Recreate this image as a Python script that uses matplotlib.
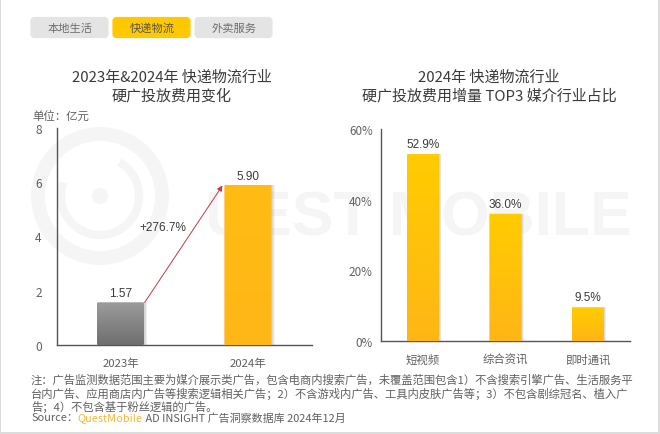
import numpy as np
import matplotlib
matplotlib.use("Agg")
import matplotlib.pyplot as plt
from matplotlib.patches import FancyBboxPatch, Circle, Rectangle, Arc
from matplotlib.colors import LinearSegmentedColormap

plt.rcParams['font.family'] = ['Noto Sans CJK SC', 'DejaVu Sans']

W, H = 660, 435

tabs = ['本地生活', '快递物流', '外卖服务']
years = ['2023年', '2024年']
spend = [1.57, 5.90]
spend_labels = ['1.57', '5.90']
growth_label = '+276.7%'
spend_ticks = [0, 2, 4, 6, 8]
media = ['短视频', '综合资讯', '即时通讯']
share = [52.9, 36.0, 9.5]
share_labels = ['52.9%', '36.0%', '9.5%']
share_ticks = [0, 20, 40, 60]
share_ticklabels = ['0%', '20%', '40%', '60%']
title_left = '2023年&2024年 快递物流行业\n硬广投放费用变化'
title_right = '2024年 快递物流行业\n硬广投放费用增量 TOP3 媒介行业占比'
notes = ['注：广告监测数据范围主要为媒介展示类广告，包含电商内搜索广告，未覆盖范围包含1）不含搜索引擎广告、生活服务平',
         '台内广告、应用商店内广告等搜索逻辑相关广告；2）不含游戏内广告、工具内皮肤广告等；3）不包含剧综冠名、植入广',
         '告；4）不包含基于粉丝逻辑的广告。']
source = ['Source：', 'QuestMobile', ' AD INSIGHT 广告洞察数据库 2024年12月']

TXT = '#606060'
DARK = '#3a3a3a'
fig = plt.figure(figsize=(W/100, H/100), dpi=100, facecolor='white')

# pixel-space backdrop
bg = fig.add_axes([0, 0, 1, 1], zorder=0)
bg.set_xlim(0, W); bg.set_ylim(H, 0); bg.axis('off')
for r in [(0, 0, W, 1.2), (0, 0, 1.2, H), (W-2.5, 0, 2.5, H), (0, H-2, W, 2)]:
    bg.add_patch(Rectangle(r[:2], r[2], r[3], fc='#dcdcdc', ec='none'))

WM = '#f5f5f5'
bg.add_patch(Circle((100, 197), 62, fc='none', ec=WM, lw=10))
bg.add_patch(Arc((100, 197), 78, 78, theta1=-60, theta2=200, ec=WM, lw=6))
bg.add_patch(Circle((100, 197), 8, fc=WM, ec='none'))
bg.text(205, 219, 'UEST MOBILE', fontsize=45, color=WM, family='Liberation Sans', fontweight='bold',
        va='center', ha='left')

for i, (t, x0) in enumerate(zip(tabs, [31, 113, 195])):
    on = i == 1
    bg.add_patch(FancyBboxPatch((x0+1.5, 20), 74, 17, boxstyle='round,pad=0,rounding_size=2',
                                mutation_aspect=1, fc='#ffc800' if on else '#e4e4e4', ec='#ffc800' if on else '#e4e4e4', lw=3))
    bg.text(x0+39, 29, t, fontsize=8.1, color='#555555' if on else '#6e6e6e', ha='center', va='center')

bg.text(172, 87, title_left, fontsize=10.8, color=DARK, ha='center', va='center', linespacing=1.3)
bg.text(489, 87, title_right, fontsize=10.8, color=DARK, ha='center', va='center', linespacing=1.3)
bg.text(32, 117, '单位：亿元', fontsize=8.2, color=TXT, ha='left', va='center')

for n, y in zip(notes, [380, 393.5, 407]):
    bg.text(31, y, n, fontsize=8.15, color=TXT, ha='left', va='center')
x = 31
fig.canvas.draw()
rend = fig.canvas.get_renderer()
for s, c in zip(source, [TXT, '#f0b93c', TXT]):
    t = bg.text(x, 418.5, s, fontsize=7.9, color=c, ha='left', va='center')
    x += t.get_window_extent(rend).width

yellow = LinearSegmentedColormap.from_list('y', ['#ffb616', '#ffcc00'])
amber = LinearSegmentedColormap.from_list('a', ['#ffb618', '#ffbc14'])
gray = LinearSegmentedColormap.from_list('g', ['#6e6e6e', '#9c9c9c'])
grad = np.linspace(1, 0, 128).reshape(-1, 1)

def make_axes(x0, x1, ytop, ybot):
    ax = fig.add_axes([x0/W, 1-ybot/H, (x1-x0)/W, (ybot-ytop)/H], zorder=1)
    ax.patch.set_alpha(0)
    for s in ['top', 'right']:
        ax.spines[s].set_visible(False)
    for s in ['left', 'bottom']:
        ax.spines[s].set_color('#555555'); ax.spines[s].set_linewidth(1)
    ax.tick_params(length=0, labelsize=8.4, labelcolor=TXT)
    return ax

def gradient_bars(ax, xs, vals, width, cmaps):
    xl, yl = ax.get_xlim(), ax.get_ylim()
    for xp, v, cm in zip(xs, vals, cmaps):
        for k in range(4):
            d = width*(0.01 + 0.02*k)
            ax.bar(xp + width*0.03, v, width + d, color='#888888', alpha=0.08, zorder=2)
        ax.bar(xp, v, width, color='none', zorder=3)
        im = ax.imshow(grad, extent=[xp-width/2, xp+width/2, 0, v], aspect='auto', cmap=cm, zorder=3,
                       vmin=0, vmax=1)
        patch = FancyBboxPatch((xp-width/2, 0), width, v, boxstyle='round,pad=0,rounding_size=0.012',
                               mutation_aspect=(yl[1]-yl[0])/(xl[1]-xl[0]), transform=ax.transData, fc='none', ec='none')
        ax.add_patch(patch)
        im.set_clip_path(patch)
    ax.set_xlim(xl); ax.set_ylim(yl)

# left chart
ax1 = make_axes(57, 312, 129, 346)
ax1.set_xlim(-0.498, 1.502); ax1.set_ylim(0, 8)
pos1 = np.arange(len(years))
gradient_bars(ax1, pos1, spend, 0.37, [gray, amber])
ax1.set_xticks(pos1, years); ax1.set_yticks(spend_ticks)
ax1.tick_params(axis='x', pad=9, labelsize=8.2)
ax1.tick_params(axis='y', pad=11, labelsize=8.6)
for xp, v, l in zip(pos1, spend, spend_labels):
    ax1.text(xp, v+0.12, l, fontsize=8.5, color=DARK, ha='center', va='bottom', family='Liberation Sans')
ax1.annotate('', xy=(pos1[1]-0.2, spend[1]-0.02), xytext=(pos1[0]+0.19, spend[0]),
             arrowprops=dict(arrowstyle='-|>', color='#bf3a4a', lw=0.7, mutation_scale=8, shrinkA=0, shrinkB=0), zorder=4)
bg.text(163, 228.5, growth_label, fontsize=8.5, color=DARK, ha='center', va='center', family='Liberation Sans')

# right chart
ax2 = make_axes(381, 630, 130, 342)
ax2.set_xlim(-0.51, 2.51); ax2.set_ylim(0, 60)
pos2 = np.arange(len(media))
gradient_bars(ax2, pos2, share, 0.39, [yellow]*3)
ax2.set_xticks(pos2, media); ax2.set_yticks(share_ticks, share_ticklabels)
ax2.tick_params(axis='x', pad=9, labelsize=8.2)
ax2.tick_params(axis='y', pad=6, labelsize=8.4)
for xp, v, l in zip(pos2, share, share_labels):
    ax2.text(xp, v+1.2, l, fontsize=8.5, color=DARK, ha='center', va='bottom', family='Liberation Sans')

fig.savefig('out.png', dpi=100)
